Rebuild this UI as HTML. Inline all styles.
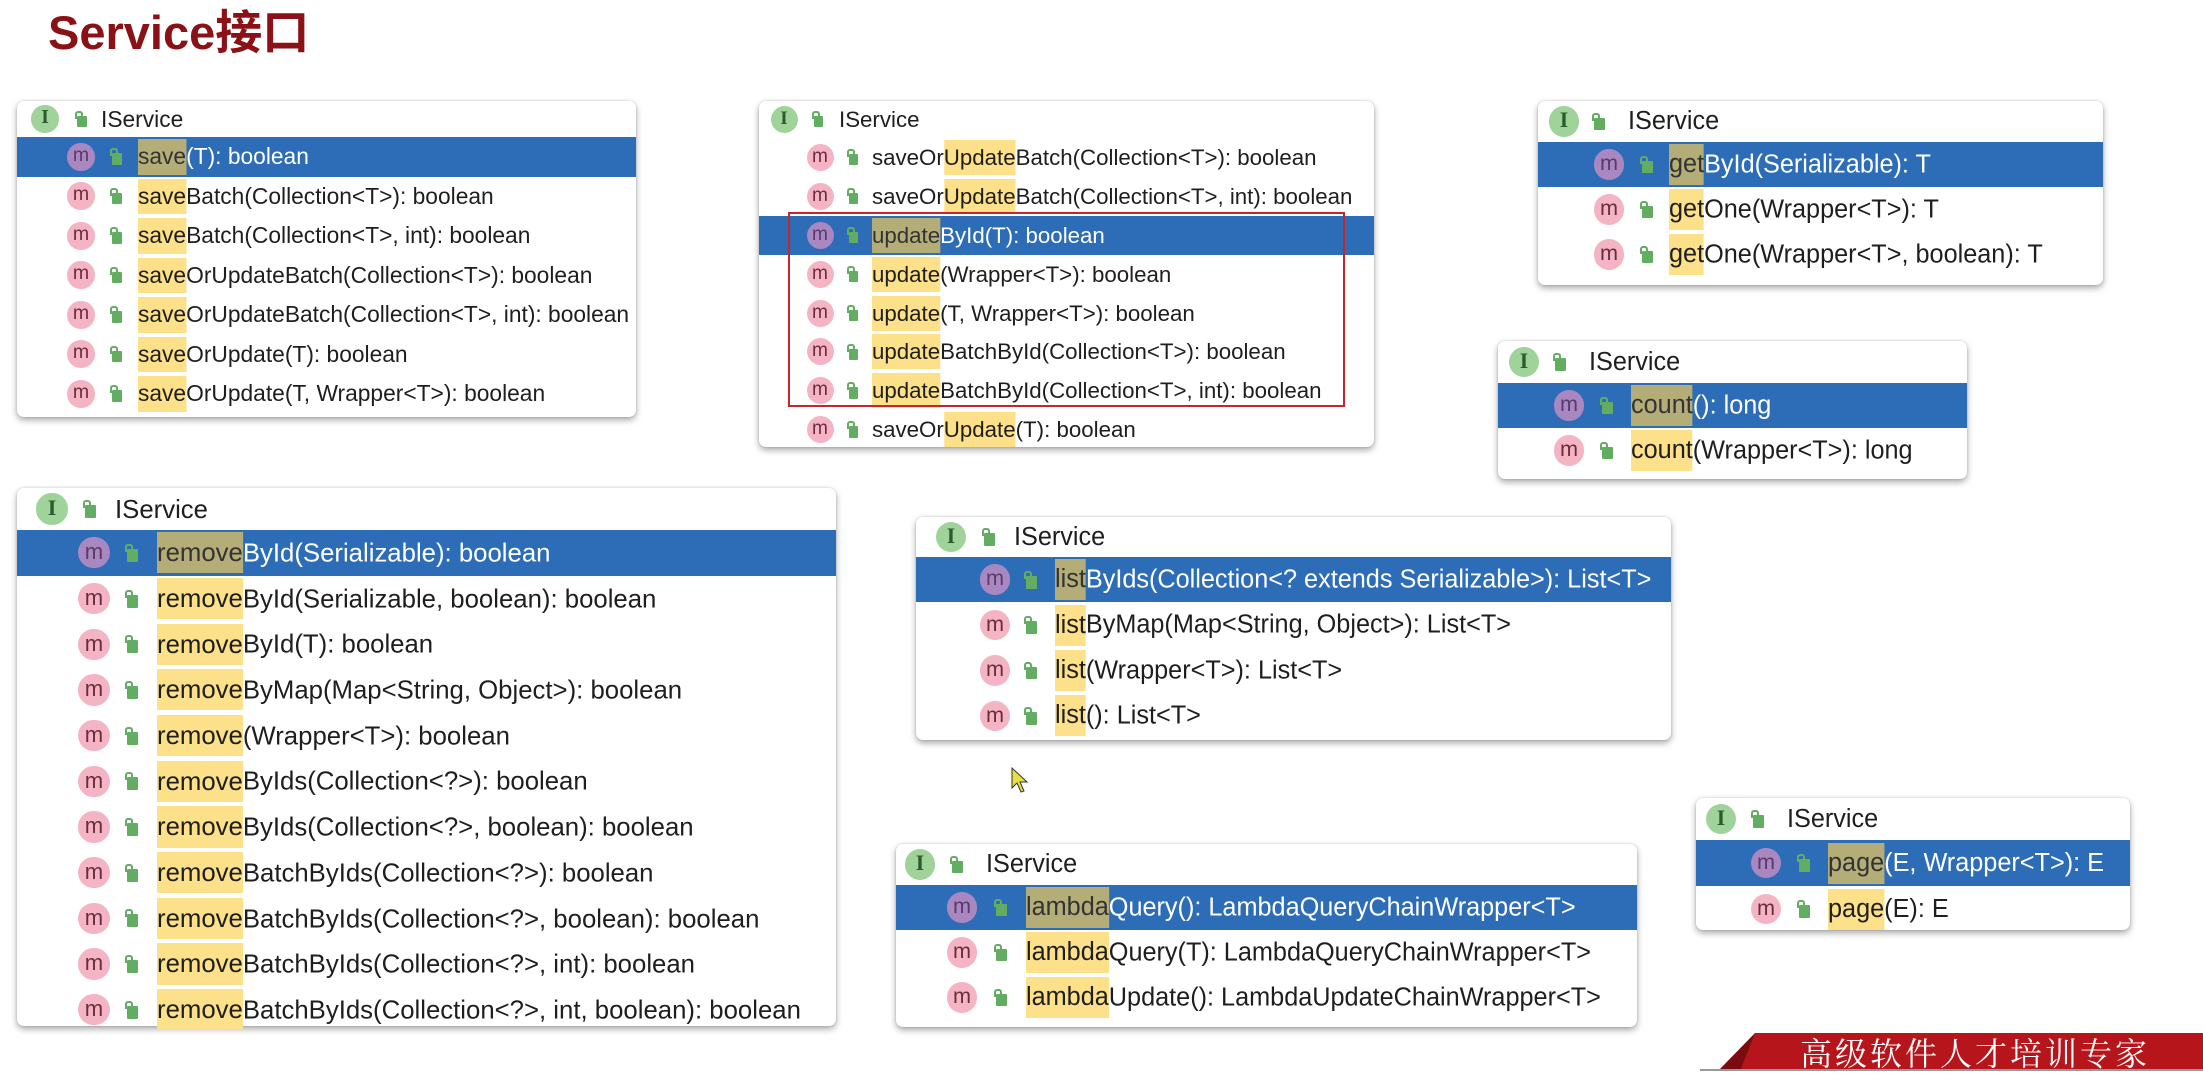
<!DOCTYPE html>
<html><head><meta charset="utf-8">
<style>
*{margin:0;padding:0;box-sizing:border-box}
body{width:2203px;height:1071px;background:#fff;position:relative;overflow:hidden;font-family:"Liberation Sans","Noto Sans CJK SC",sans-serif;color:#1e1e1e}
.title{position:absolute;left:48px;top:-6px;font-size:47px;font-weight:bold;color:#8a1116}
.p{position:absolute;background:#fff;border-radius:7px;box-shadow:0 3px 7px rgba(0,0,0,.35),0 0 2px rgba(0,0,0,.15)}
.hd{position:relative}
.r{position:relative;height:var(--rh)}
.r.s{background:#2d6db8;color:#fff}
.ic{position:absolute;top:50%;width:calc(var(--fs)*1.2);height:calc(var(--fs)*1.2);margin-top:calc(var(--fs)*-0.6);margin-left:calc(var(--fs)*-0.6);border-radius:50%;background:#f4b4c4;color:#6a2d3e;font-size:calc(var(--fs)*0.85);line-height:calc(var(--fs)*1.12);text-align:center}
.r.s .ic{background:#a988c2;color:#5a3a6a}
.I{background:#9fd39a;color:#2b5a2b;font-family:"Liberation Serif",serif;font-weight:bold}
.lk{position:absolute;top:50%;width:calc(var(--fs)*0.42);height:calc(var(--fs)*0.5);margin-top:calc(var(--fs)*-0.15);background:#63ad63;border-radius:1px}
.lk:before{content:"";position:absolute;left:-2px;top:-5px;width:4px;height:6px;border:2px solid #63ad63;border-bottom:none;border-radius:3px 3px 0 0}
.t{position:absolute;top:0;height:100%;line-height:var(--rh);font-size:var(--fs);white-space:nowrap;transform:scaleX(.99);transform-origin:left center}
.t b{font-weight:normal;background:#fde18a;display:inline-block;height:calc(var(--rh)*0.9);margin-top:calc(var(--rh)*0.05);line-height:calc(var(--rh)*0.9)}
.r.s .t b{background:#b5ad78;color:#333}
</style></head><body>
<div class="title">Service接口</div>

<div class="p" style="left:17px;top:101px;width:619px;height:316px;--fs:23px;--rh:39.5px">
 <div class="hd" style="height:36px;--rh:36px"><div class="ic I" style="left:28px">I</div><div class="lk" style="left:60px"></div><div class="t" style="left:84px">IService</div></div>
 <div class="r s"><div class="ic" style="left:64px">m</div><div class="lk" style="left:95px"></div><div class="t" style="left:121px"><b>save</b>(T): boolean</div></div>
 <div class="r"><div class="ic" style="left:64px">m</div><div class="lk" style="left:95px"></div><div class="t" style="left:121px"><b>save</b>Batch(Collection&lt;T&gt;): boolean</div></div>
 <div class="r"><div class="ic" style="left:64px">m</div><div class="lk" style="left:95px"></div><div class="t" style="left:121px"><b>save</b>Batch(Collection&lt;T&gt;, int): boolean</div></div>
 <div class="r"><div class="ic" style="left:64px">m</div><div class="lk" style="left:95px"></div><div class="t" style="left:121px"><b>save</b>OrUpdateBatch(Collection&lt;T&gt;): boolean</div></div>
 <div class="r"><div class="ic" style="left:64px">m</div><div class="lk" style="left:95px"></div><div class="t" style="left:121px"><b>save</b>OrUpdateBatch(Collection&lt;T&gt;, int): boolean</div></div>
 <div class="r"><div class="ic" style="left:64px">m</div><div class="lk" style="left:95px"></div><div class="t" style="left:121px"><b>save</b>OrUpdate(T): boolean</div></div>
 <div class="r"><div class="ic" style="left:64px">m</div><div class="lk" style="left:95px"></div><div class="t" style="left:121px"><b>save</b>OrUpdate(T, Wrapper&lt;T&gt;): boolean</div></div>
</div>

<div class="p" style="left:759px;top:101px;width:615px;height:346px;--fs:22.5px;--rh:38.9px">
 <div class="hd" style="height:37px;--rh:37px"><div class="ic I" style="left:25px">I</div><div class="lk" style="left:55px"></div><div class="t" style="left:80px">IService</div></div>
 <div class="r"><div class="ic" style="left:61px">m</div><div class="lk" style="left:90px"></div><div class="t" style="left:113px">saveOr<b>Update</b>Batch(Collection&lt;T&gt;): boolean</div></div>
 <div class="r"><div class="ic" style="left:61px">m</div><div class="lk" style="left:90px"></div><div class="t" style="left:113px">saveOr<b>Update</b>Batch(Collection&lt;T&gt;, int): boolean</div></div>
 <div class="r s"><div class="ic" style="left:61px">m</div><div class="lk" style="left:90px"></div><div class="t" style="left:113px"><b>update</b>ById(T): boolean</div></div>
 <div class="r"><div class="ic" style="left:61px">m</div><div class="lk" style="left:90px"></div><div class="t" style="left:113px"><b>update</b>(Wrapper&lt;T&gt;): boolean</div></div>
 <div class="r"><div class="ic" style="left:61px">m</div><div class="lk" style="left:90px"></div><div class="t" style="left:113px"><b>update</b>(T, Wrapper&lt;T&gt;): boolean</div></div>
 <div class="r"><div class="ic" style="left:61px">m</div><div class="lk" style="left:90px"></div><div class="t" style="left:113px"><b>update</b>BatchById(Collection&lt;T&gt;): boolean</div></div>
 <div class="r"><div class="ic" style="left:61px">m</div><div class="lk" style="left:90px"></div><div class="t" style="left:113px"><b>update</b>BatchById(Collection&lt;T&gt;, int): boolean</div></div>
 <div class="r"><div class="ic" style="left:61px">m</div><div class="lk" style="left:90px"></div><div class="t" style="left:113px">saveOr<b>Update</b>(T): boolean</div></div>
 <div style="position:absolute;left:29px;top:111px;width:557px;height:195px;border:2px solid #c0282d"></div>
</div>

<div class="p" style="left:1538px;top:101px;width:565px;height:184px;--fs:25.5px;--rh:45px">
 <div class="hd" style="height:41px;--rh:41px"><div class="ic I" style="left:26px">I</div><div class="lk" style="left:56px"></div><div class="t" style="left:90px">IService</div></div>
 <div class="r s"><div class="ic" style="left:71px">m</div><div class="lk" style="left:104px"></div><div class="t" style="left:131px"><b>get</b>ById(Serializable): T</div></div>
 <div class="r"><div class="ic" style="left:71px">m</div><div class="lk" style="left:104px"></div><div class="t" style="left:131px"><b>get</b>One(Wrapper&lt;T&gt;): T</div></div>
 <div class="r"><div class="ic" style="left:71px">m</div><div class="lk" style="left:104px"></div><div class="t" style="left:131px"><b>get</b>One(Wrapper&lt;T&gt;, boolean): T</div></div>
</div>

<div class="p" style="left:1498px;top:341px;width:469px;height:138px;--fs:25.5px;--rh:45px">
 <div class="hd" style="height:42px;--rh:42px"><div class="ic I" style="left:26px">I</div><div class="lk" style="left:57px"></div><div class="t" style="left:91px">IService</div></div>
 <div class="r s"><div class="ic" style="left:71px">m</div><div class="lk" style="left:104px"></div><div class="t" style="left:133px"><b>count</b>(): long</div></div>
 <div class="r"><div class="ic" style="left:71px">m</div><div class="lk" style="left:104px"></div><div class="t" style="left:133px"><b>count</b>(Wrapper&lt;T&gt;): long</div></div>
</div>

<div class="p" style="left:17px;top:488px;width:819px;height:538px;--fs:26px;--rh:45.7px">
 <div class="hd" style="height:42px;--rh:42px"><div class="ic I" style="left:35px">I</div><div class="lk" style="left:68px"></div><div class="t" style="left:98px">IService</div></div>
 <div class="r s"><div class="ic" style="left:77px">m</div><div class="lk" style="left:110px"></div><div class="t" style="left:140px"><b>remove</b>ById(Serializable): boolean</div></div>
 <div class="r"><div class="ic" style="left:77px">m</div><div class="lk" style="left:110px"></div><div class="t" style="left:140px"><b>remove</b>ById(Serializable, boolean): boolean</div></div>
 <div class="r"><div class="ic" style="left:77px">m</div><div class="lk" style="left:110px"></div><div class="t" style="left:140px"><b>remove</b>ById(T): boolean</div></div>
 <div class="r"><div class="ic" style="left:77px">m</div><div class="lk" style="left:110px"></div><div class="t" style="left:140px"><b>remove</b>ByMap(Map&lt;String, Object&gt;): boolean</div></div>
 <div class="r"><div class="ic" style="left:77px">m</div><div class="lk" style="left:110px"></div><div class="t" style="left:140px"><b>remove</b>(Wrapper&lt;T&gt;): boolean</div></div>
 <div class="r"><div class="ic" style="left:77px">m</div><div class="lk" style="left:110px"></div><div class="t" style="left:140px"><b>remove</b>ByIds(Collection&lt;?&gt;): boolean</div></div>
 <div class="r"><div class="ic" style="left:77px">m</div><div class="lk" style="left:110px"></div><div class="t" style="left:140px"><b>remove</b>ByIds(Collection&lt;?&gt;, boolean): boolean</div></div>
 <div class="r"><div class="ic" style="left:77px">m</div><div class="lk" style="left:110px"></div><div class="t" style="left:140px"><b>remove</b>BatchByIds(Collection&lt;?&gt;): boolean</div></div>
 <div class="r"><div class="ic" style="left:77px">m</div><div class="lk" style="left:110px"></div><div class="t" style="left:140px"><b>remove</b>BatchByIds(Collection&lt;?&gt;, boolean): boolean</div></div>
 <div class="r"><div class="ic" style="left:77px">m</div><div class="lk" style="left:110px"></div><div class="t" style="left:140px"><b>remove</b>BatchByIds(Collection&lt;?&gt;, int): boolean</div></div>
 <div class="r"><div class="ic" style="left:77px">m</div><div class="lk" style="left:110px"></div><div class="t" style="left:140px"><b>remove</b>BatchByIds(Collection&lt;?&gt;, int, boolean): boolean</div></div>
</div>

<div class="p" style="left:916px;top:517px;width:755px;height:223px;--fs:25.5px;--rh:45.4px">
 <div class="hd" style="height:40px;--rh:40px"><div class="ic I" style="left:35px">I</div><div class="lk" style="left:68px"></div><div class="t" style="left:98px">IService</div></div>
 <div class="r s"><div class="ic" style="left:79px">m</div><div class="lk" style="left:110px"></div><div class="t" style="left:139px"><b>list</b>ByIds(Collection&lt;? extends Serializable&gt;): List&lt;T&gt;</div></div>
 <div class="r"><div class="ic" style="left:79px">m</div><div class="lk" style="left:110px"></div><div class="t" style="left:139px"><b>list</b>ByMap(Map&lt;String, Object&gt;): List&lt;T&gt;</div></div>
 <div class="r"><div class="ic" style="left:79px">m</div><div class="lk" style="left:110px"></div><div class="t" style="left:139px"><b>list</b>(Wrapper&lt;T&gt;): List&lt;T&gt;</div></div>
 <div class="r"><div class="ic" style="left:79px">m</div><div class="lk" style="left:110px"></div><div class="t" style="left:139px"><b>list</b>(): List&lt;T&gt;</div></div>
</div>

<div class="p" style="left:896px;top:844px;width:741px;height:183px;--fs:25.5px;--rh:45px">
 <div class="hd" style="height:41px;--rh:41px"><div class="ic I" style="left:24px">I</div><div class="lk" style="left:56px"></div><div class="t" style="left:90px">IService</div></div>
 <div class="r s"><div class="ic" style="left:66px">m</div><div class="lk" style="left:100px"></div><div class="t" style="left:130px"><b>lambda</b>Query(): LambdaQueryChainWrapper&lt;T&gt;</div></div>
 <div class="r"><div class="ic" style="left:66px">m</div><div class="lk" style="left:100px"></div><div class="t" style="left:130px"><b>lambda</b>Query(T): LambdaQueryChainWrapper&lt;T&gt;</div></div>
 <div class="r"><div class="ic" style="left:66px">m</div><div class="lk" style="left:100px"></div><div class="t" style="left:130px"><b>lambda</b>Update(): LambdaUpdateChainWrapper&lt;T&gt;</div></div>
</div>

<div class="p" style="left:1696px;top:798px;width:434px;height:132px;--fs:25.5px;--rh:46px">
 <div class="hd" style="height:42px;--rh:42px"><div class="ic I" style="left:25px">I</div><div class="lk" style="left:57px"></div><div class="t" style="left:91px">IService</div></div>
 <div class="r s"><div class="ic" style="left:70px">m</div><div class="lk" style="left:103px"></div><div class="t" style="left:132px"><b>page</b>(E, Wrapper&lt;T&gt;): E</div></div>
 <div class="r"><div class="ic" style="left:70px">m</div><div class="lk" style="left:103px"></div><div class="t" style="left:132px"><b>page</b>(E): E</div></div>
</div>

<svg style="position:absolute;left:1010px;top:766px" width="20" height="30"><path d="M2 2 L2 22 L7 17 L11 26 L14 25 L10 16 L17 16 Z" fill="#e8e040" stroke="#333" stroke-width="1"/></svg>

<svg style="position:absolute;left:1700px;top:1030px" width="503" height="41">
 <polygon points="18,41 55,3 80,3 80,41" fill="#7a0c10"/>
 <polygon points="55,3 503,3 503,41 40,41" fill="#b5151b"/>
 <rect x="0" y="39" width="503" height="2" fill="#999"/>
</svg>
<div style="position:absolute;left:1800px;top:1029px;font-family:'Noto Serif CJK SC',serif;font-size:32px;color:#fff;letter-spacing:3px;white-space:nowrap">高级软件人才培训专家</div>
</body></html>
